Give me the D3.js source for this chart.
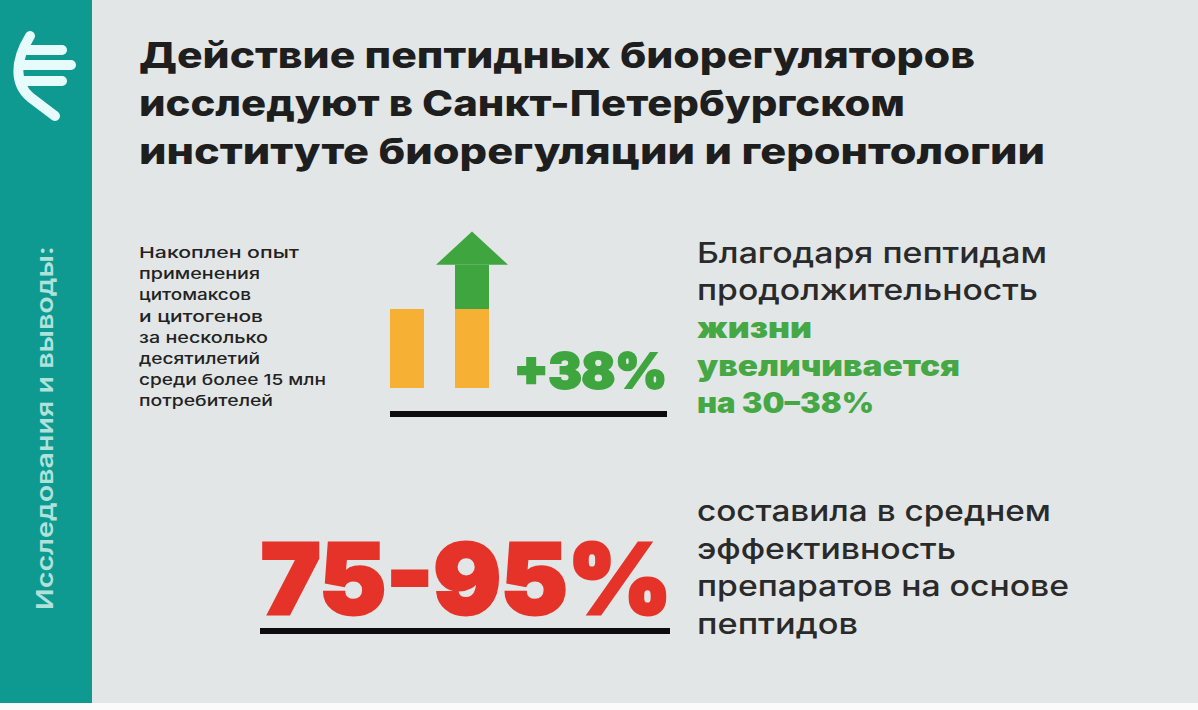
<!DOCTYPE html>
<html><head><meta charset="utf-8">
<script src="https://cdn.jsdelivr.net/npm/d3@7"></script>
<style>html,body{margin:0;padding:0;background:#fff}svg{display:block}text{font-family:Inter,"Noto Sans",sans-serif}</style>
</head><body><svg id="c" width="1198" height="710"></svg>
<script>
const titleLines=["Действие пептидных биорегуляторов","исследуют в Санкт-Петербургском","институте биорегуляции и геронтологии"];
const sideLabel="Исследования и выводы:";
const noteLines=["Накоплен опыт","применения","цитомаксов","и цитогенов","за несколько","десятилетий","среди более 15 млн","потребителей"];
const barCategories=["до","после"];
const baseValues=[100,100];
const gainTop=[100,156];
const arrowShaft=156;
const arrowTip=198;
const gainLabel="+38%";
const rightPlain1=["Благодаря пептидам","продолжительность"];
const rightGreen=["жизни","увеличивается","на 30–38%"];
const bigLabel="75-95%";
const rightPlain2=["составила в среднем","эффективность","препаратов на основе","пептидов"];

// line widths measured on the reference (its wide typeface is not installed)
const titleWidths=[836,766,906];
const noteWidths=[160,121,112,124,129,121,187,134];
const plain1Widths=[350,341];
const greenWidths=[115,263,177];
const plain2Widths=[354,259,372,161];

const svg=d3.select("#c");
svg.append("rect").attr("width",1198).attr("height",703).attr("fill","#e3e6e7");
svg.append("rect").attr("y",703).attr("width",1198).attr("height",7).attr("fill","#fbfbfb");
svg.append("rect").attr("width",92).attr("height",703).attr("fill","#0e9a90");

const logo=svg.append("g").attr("fill","none").attr("stroke","#e6fbfb").attr("stroke-linecap","round").attr("stroke-width",10);
logo.append("path").attr("d","M30 36C14 62 15 84 30 97L55 116");
logo.append("path").attr("d","M27 50H62");
logo.append("path").attr("d","M22 65H71");
logo.append("path").attr("d","M25 81H62");

const fit=(sel,w)=>sel.attr("textLength",w).attr("lengthAdjust","spacingAndGlyphs");

fit(svg.append("text").attr("transform","translate(53,610) rotate(-90)").attr("font-size",23).attr("font-weight",600).attr("fill","#b0e2dc").text(sideLabel),364);

const addLines=(lines,widths,x,y0,dy,size,weight,fill)=>fit(svg.append("g").selectAll("text").data(lines).join("text")
 .attr("x",x).attr("y",(d,i)=>y0+i*dy).attr("font-size",size).attr("font-weight",weight).attr("fill",fill).text(d=>d),(d,i)=>widths[i]);

addLines(titleLines,titleWidths,139,68,48,36,800,"#1e1e1e");
addLines(noteLines,noteWidths,139,258,21.2,15,500,"#222");

const y=d3.scaleLinear().domain([0,100]).range([388,309]);
const x=d3.scaleBand().domain(barCategories).range([390,489]).paddingInner(0.477);
const cx=x(barCategories[1])+x.bandwidth()/2, hw=36;
svg.append("g").selectAll("rect").data(barCategories).join("rect")
 .attr("x",d=>x(d)).attr("width",x.bandwidth())
 .attr("y",(d,i)=>y(baseValues[i])).attr("height",(d,i)=>y(0)-y(baseValues[i])).attr("fill","#f6b033");
svg.append("rect").attr("x",x(barCategories[1])).attr("width",x.bandwidth())
 .attr("y",y(gainTop[1])).attr("height",y(gainTop[0])-y(gainTop[1])).attr("fill","#3fa63f");
svg.append("path").attr("fill","#3fa63f").attr("d",d3.line()([[cx-hw,y(arrowShaft)],[cx,y(arrowTip)],[cx+hw,y(arrowShaft)]])+"Z");
svg.append("rect").attr("x",390).attr("y",411).attr("width",277).attr("height",6).attr("fill","#0c0c0c");
fit(svg.append("text").attr("x",514).attr("y",388).attr("font-size",48).attr("font-weight",900).attr("fill","#3fa63f").attr("stroke","#3fa63f").attr("stroke-width",2).text(gainLabel),153);

addLines(rightPlain1,plain1Widths,697,263,37,29,500,"#2a2a2a");
addLines(rightGreen,greenWidths,697,338,37.5,28,900,"#45a845");

fit(svg.append("text").attr("x",261).attr("y",614).attr("font-size",98).attr("font-weight",900).attr("fill","#e5332a").attr("stroke","#e5332a").attr("stroke-width",3).text(bigLabel),411);
svg.append("rect").attr("x",260).attr("y",628).attr("width",410).attr("height",6).attr("fill","#0c0c0c");
addLines(rightPlain2,plain2Widths,697,521,37.5,29,500,"#2a2a2a");
</script></body></html>
